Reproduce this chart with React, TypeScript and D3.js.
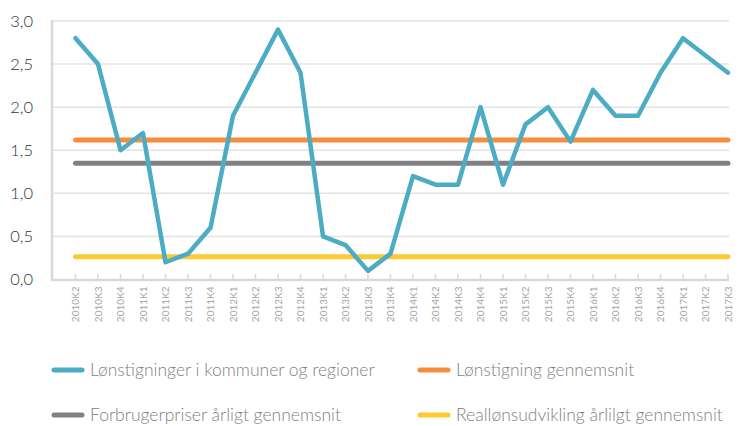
import React from 'react';
import * as d3 from 'd3';

const categories = [
  '2010K2', '2010K3', '2010K4',
  '2011K1', '2011K2', '2011K3', '2011K4',
  '2012K1', '2012K2', '2012K3', '2012K4',
  '2013K1', '2013K2', '2013K3', '2013K4',
  '2014K1', '2014K2', '2014K3', '2014K4',
  '2015K1', '2015K2', '2015K3', '2015K4',
  '2016K1', '2016K2', '2016K3', '2016K4',
  '2017K1', '2017K2', '2017K3',
];

const loenKommuner = [
  2.8, 2.5, 1.5,
  1.7, 0.2, 0.3, 0.6,
  1.9, 2.4, 2.9, 2.4,
  0.5, 0.4, 0.1, 0.3,
  1.2, 1.1, 1.1, 2.0,
  1.1, 1.8, 2.0, 1.6,
  2.2, 1.9, 1.9, 2.4,
  2.8, 2.6, 2.4,
];

const loenGennemsnit = 1.62;
const forbrugerpriser = 1.35;
const realloen = 0.265;

const yTicks = [0, 0.5, 1, 1.5, 2, 2.5, 3];

const seriesNames = [
  'Lønstigninger i kommuner og regioner',
  'Lønstigning gennemsnit',
  'Forbrugerpriser årligt gennemsnit',
  'Reallønsudvikling årlilgt gennemsnit',
];
const colors = ['#4cacc4', '#f78d3b', '#818185', '#fec933'];

export default function App() {
  const width = 745;
  const height = 426;
  const plotLeft = 52;
  const plotRight = 729;
  const plotTop = 21;
  const plotBottom = 279.5;

  const x = d3.scalePoint<string>().domain(categories).range([75.5, 728]);
  const y = d3.scaleLinear().domain([0, 3]).range([plotBottom, plotTop]);

  const line = d3.line<number>()
    .x((_, i) => x(categories[i]) as number)
    .y(d => y(d));

  const constants = [loenGennemsnit, forbrugerpriser, realloen];
  const font = 'Lato, "Open Sans", sans-serif';

  // legend: two columns, two rows (second row sits at the bottom edge)
  const legendItems = seriesNames.map((name, i) => ({
    name,
    color: colors[i],
    x: i % 2 === 0 ? 52 : 418,
    y: i < 2 ? 370 : 415,
  }));

  return (
    <svg width={width} height={height} style={{ position: 'absolute', left: 0, top: 0, background: '#fff' }}>
      {/* grid */}
      {yTicks.filter(t => t > 0).map(t => (
        <line key={t} x1={plotLeft} x2={plotRight} y1={y(t)} y2={y(t)} stroke="#e3e3e3" strokeWidth={1.5} />
      ))}
      {/* y labels */}
      {yTicks.map(t => (
        <text key={'l' + t} x={33} y={y(t)} dy="0.35em" textAnchor="end"
          fontFamily={font} fontWeight={300} fontSize={16.5} fill="#333">
          {d3.format('.1f')(t).replace('.', ',')}
        </text>
      ))}
      {/* axes */}
      <line x1={plotLeft} x2={plotLeft} y1={plotTop - 1} y2={plotBottom + 1.5} stroke="#d9d9d9" strokeWidth={2.5} />
      <line x1={plotLeft} x2={plotRight} y1={plotBottom + 0.5} y2={plotBottom + 0.5} stroke="#d9d9d9" strokeWidth={2.5} />
      {categories.map(c => (
        <g key={c}>
          <line x1={x(c)} x2={x(c)} y1={plotBottom - 5.5} y2={plotBottom} stroke="#d9d9d9" strokeWidth={1.5} />
          <text transform={`translate(${x(c)},${plotBottom + 7}) rotate(-90)`} textAnchor="end" dy="0.35em"
            fontFamily={font} fontSize={10} fill="#a6a6a6">
            {c}
          </text>
        </g>
      ))}
      {/* constant lines */}
      {constants.map((v, i) => (
        <line key={'c' + i} x1={x(categories[0])} x2={x(categories[categories.length - 1])}
          y1={y(v)} y2={y(v)} stroke={colors[i + 1]} strokeWidth={5} strokeLinecap="round" />
      ))}
      {/* main series */}
      <path d={line(loenKommuner) || ''} fill="none" stroke={colors[0]} strokeWidth={4.5}
        strokeLinecap="round" strokeLinejoin="round" />
      {/* legend */}
      {legendItems.map(item => (
        <g key={item.name}>
          <line x1={item.x + 2} x2={item.x + 30} y1={item.y} y2={item.y} stroke={item.color}
            strokeWidth={5} strokeLinecap="round" />
          <text x={item.x + 38} y={item.y} dy="0.35em" fontFamily={font} fontWeight={300}
            fontSize={17.5} fill="#7f7f7f">
            {item.name}
          </text>
        </g>
      ))}
    </svg>
  );
}
